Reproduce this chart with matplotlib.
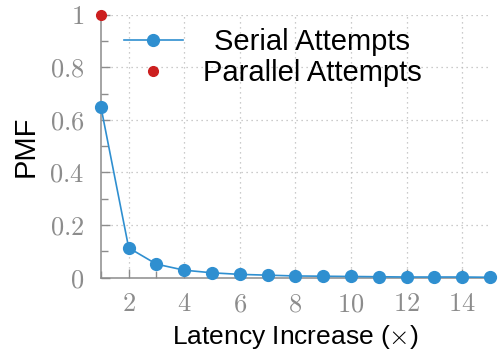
import matplotlib
matplotlib.use("Agg")
import matplotlib.pyplot as plt
from matplotlib.ticker import MultipleLocator, FuncFormatter
from matplotlib.transforms import Affine2D

# datos
latencia = [1, 2, 3, 4, 5, 6, 7, 8, 9, 10, 11, 12, 13, 14, 15]
pmf_serial = [0.65, 0.113, 0.051, 0.028, 0.018, 0.012, 0.009, 0.006,
              0.005, 0.004, 0.003, 0.002, 0.002, 0.002, 0.001]
latencia_paralelo = [1]
pmf_paralelo = [1.0]

azul = '#2f8fd0'
rojo = '#cc1f1f'
gris = '#8c8c8c'

plt.rcParams['font.family'] = ['Liberation Sans', 'DejaVu Sans']
plt.rcParams['mathtext.fontset'] = 'cm'

fig = plt.figure(figsize=(5.02, 3.54), dpi=100)
ax = fig.add_axes([0.201, 0.216, 0.775, 0.742])

ax.plot(latencia, pmf_serial, color=azul, marker='o', markersize=8.5,
        linewidth=1.2, label='Serial Attempts', clip_on=False, zorder=3)
ax.plot(latencia_paralelo, pmf_paralelo, linestyle='none', color=rojo,
        marker='o', markersize=7, label='Parallel Attempts', clip_on=False,
        zorder=4)

ax.set_xlim(1, 15)
ax.set_ylim(0, 1)
ax.xaxis.set_major_locator(MultipleLocator(2))
ax.xaxis.set_minor_locator(MultipleLocator(1))
ax.yaxis.set_major_locator(MultipleLocator(0.2))
ax.yaxis.set_minor_locator(MultipleLocator(0.1))
ax.xaxis.set_major_formatter(FuncFormatter(lambda v, p: f'${v:g}$'))
ax.yaxis.set_major_formatter(FuncFormatter(lambda v, p: f'${v:g}$'))

for lado in ['top', 'right']:
    ax.spines[lado].set_visible(False)
for lado in ['left', 'bottom']:
    ax.spines[lado].set_color(gris)
    ax.spines[lado].set_linewidth(1.1)

ax.tick_params(which='both', direction='in', color=gris, width=1.0)
ax.tick_params(which='major', length=6.5, labelsize=19, labelcolor=gris)
ax.tick_params(axis='y', which='major', pad=12)
ax.tick_params(axis='x', which='major', pad=10.5)
ax.tick_params(which='minor', length=5)
ax.grid(True, which='major', linestyle=(0, (1, 3)), color='#bbbbbb', linewidth=0.9)
ax.set_axisbelow(True)

ax.set_xlabel('Latency Increase ($\\times$)', fontsize=19, labelpad=5)
ax.set_ylabel('PMF', fontsize=21, labelpad=7)

leg = ax.legend(loc='upper left', bbox_to_anchor=(0.03, 0.995), frameon=False,
                fontsize=21, handlelength=2.0, handletextpad=0.7,
                labelspacing=0.12, borderaxespad=0)

# centrar los textos de la leyenda entre si
fig.canvas.draw()
textos = leg.get_texts()
anchos = [t.get_window_extent().width for t in textos]
ancho_max = max(anchos)
for t, w in zip(textos, anchos):
    dx = (ancho_max - w) / 2
    t.set_transform(t.get_transform() + Affine2D().translate(dx, 0))

fig.savefig('out.png', dpi=100)
